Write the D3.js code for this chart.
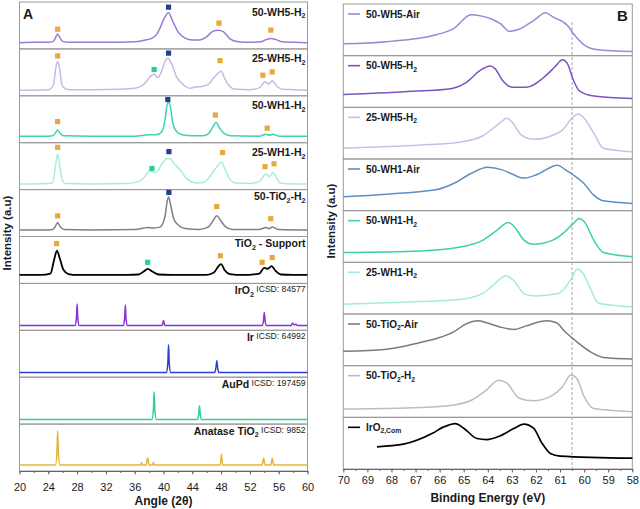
<!DOCTYPE html>
<html>
<head>
<meta charset="utf-8">
<script src="https://cdn.jsdelivr.net/npm/d3@7"></script>
<style>
  body { margin: 0; background: #fff; }
  text { font-family: "Liberation Sans", Arial, sans-serif; fill: #1a1a1a; }
</style>
</head>
<body>
<svg id="chart" width="640" height="509"></svg>
<script>
// ---------- panel A: XRD patterns, [angle, relative intensity in its strip] ----------
const xrd50WH5 = [[20,0.13],[22,0.14],[24,0.14],[24.7,0.16],[25.0,0.24],[25.3,0.32],[25.6,0.24],[26.0,0.16],[27,0.14],[30,0.14],[34,0.14],[36,0.15],[37.2,0.18],[38.3,0.22],[39.0,0.30],[39.5,0.44],[40.1,0.65],[40.7,0.77],[41.3,0.58],[42.0,0.37],[43.0,0.23],[44.0,0.19],[45.0,0.19],[46.0,0.26],[46.9,0.38],[47.6,0.40],[48.3,0.37],[49.2,0.22],[50.2,0.16],[52,0.14],[53.5,0.15],[54.3,0.20],[55.0,0.22],[55.6,0.20],[56.5,0.15],[58,0.14],[60,0.13]];
const xrd25WH5 = [[20,0.12],[22,0.12],[24,0.13],[24.7,0.23],[25.07,0.62],[25.3,0.73],[25.53,0.62],[25.9,0.23],[26.3,0.16],[27,0.13],[30,0.13],[34,0.14],[36,0.16],[37.0,0.21],[37.6,0.30],[38.2,0.42],[38.7,0.46],[39.2,0.39],[39.7,0.51],[40.2,0.73],[40.6,0.80],[41.1,0.69],[41.8,0.41],[42.8,0.23],[43.7,0.16],[44.5,0.19],[45.3,0.20],[46.2,0.24],[47.0,0.39],[47.6,0.48],[48.0,0.53],[48.5,0.37],[49.2,0.20],[50,0.14],[52,0.13],[53.4,0.18],[54.1,0.30],[54.6,0.25],[55.1,0.32],[55.7,0.21],[56.5,0.14],[58,0.13],[60,0.12]];
const xrd50WH1 = [[20,0.14],[24,0.14],[24.6,0.15],[25.0,0.21],[25.3,0.27],[25.6,0.21],[26.1,0.15],[30,0.14],[36,0.14],[38.0,0.17],[39.0,0.17],[39.8,0.24],[40.2,0.48],[40.5,0.80],[40.7,0.87],[40.95,0.77],[41.3,0.41],[41.8,0.24],[42.6,0.17],[44,0.15],[45.5,0.15],[46.3,0.20],[46.8,0.32],[47.3,0.43],[47.8,0.31],[48.4,0.20],[49.3,0.15],[53.3,0.14],[54.2,0.18],[54.7,0.16],[55.2,0.18],[56,0.14],[60,0.14]];
const xrd25WH1 = [[20,0.12],[24,0.13],[24.6,0.15],[25.0,0.50],[25.3,0.76],[25.6,0.50],[26.0,0.18],[26.4,0.13],[30,0.12],[35,0.13],[36.5,0.17],[37.2,0.24],[37.8,0.36],[38.2,0.40],[38.7,0.36],[39.2,0.40],[39.8,0.55],[40.4,0.66],[40.9,0.66],[41.5,0.55],[42.3,0.42],[43.2,0.24],[44.6,0.14],[45.5,0.15],[46.3,0.25],[46.9,0.38],[47.6,0.52],[48.1,0.59],[48.5,0.45],[49.1,0.25],[50,0.14],[52,0.13],[53.4,0.18],[54.2,0.33],[54.7,0.28],[55.2,0.36],[55.7,0.25],[56.2,0.14],[58,0.12],[60,0.12]];
const xrd50TiO2 = [[20,0.14],[24,0.14],[24.6,0.15],[25.0,0.22],[25.3,0.30],[25.6,0.22],[26.2,0.15],[30,0.14],[36,0.15],[37.3,0.18],[37.8,0.19],[38.5,0.18],[39.5,0.20],[40.2,0.42],[40.5,0.74],[40.7,0.84],[41.0,0.67],[41.4,0.39],[42.0,0.25],[43.0,0.17],[45,0.15],[46.3,0.21],[46.9,0.34],[47.4,0.44],[47.9,0.35],[48.6,0.21],[49.6,0.15],[53.3,0.15],[54.2,0.19],[54.7,0.17],[55.1,0.20],[56,0.15],[60,0.14]];
const xrdSupport = [[20,0.18],[23,0.18],[24.3,0.21],[24.8,0.50],[25.2,0.70],[25.6,0.53],[26.1,0.29],[26.8,0.20],[28,0.18],[32,0.18],[35,0.18],[36.5,0.19],[37.3,0.26],[37.8,0.31],[38.4,0.26],[39.3,0.19],[41,0.18],[44,0.18],[46,0.18],[47.0,0.23],[47.6,0.36],[48.0,0.41],[48.5,0.28],[49.2,0.20],[51,0.18],[53.3,0.21],[54.0,0.33],[54.5,0.31],[55.0,0.37],[55.6,0.26],[56.3,0.19],[58,0.18],[60,0.18]];
const refIrO2 = [[20,0.10],[27.7,0.10],[27.9,0.25],[28.0,0.56],[28.1,0.25],[28.3,0.10],[34.4,0.10],[34.6,0.25],[34.7,0.54],[34.8,0.25],[35.0,0.10],[39.8,0.10],[39.9,0.15],[40.0,0.21],[40.1,0.15],[40.2,0.10],[53.7,0.10],[53.9,0.22],[54.0,0.38],[54.1,0.22],[54.3,0.10],[57.7,0.10],[57.9,0.15],[58.15,0.12],[58.4,0.13],[58.6,0.10],[60,0.10]];
const refIr = [[20,0.10],[40.4,0.10],[40.6,0.30],[40.7,0.69],[40.8,0.30],[41.0,0.10],[47.1,0.10],[47.3,0.22],[47.4,0.35],[47.5,0.22],[47.7,0.10],[60,0.10]];
const refAuPd = [[20,0.10],[38.4,0.10],[38.6,0.30],[38.7,0.69],[38.8,0.30],[39.0,0.10],[44.7,0.10],[44.9,0.22],[45.0,0.39],[45.1,0.22],[45.3,0.10],[60,0.10]];
const refAnatase = [[20,0.13],[25.0,0.13],[25.2,0.40],[25.3,0.86],[25.4,0.40],[25.6,0.13],[36.8,0.13],[36.95,0.18],[37.1,0.13],[37.6,0.13],[37.8,0.28],[38.0,0.13],[38.45,0.13],[38.6,0.18],[38.75,0.13],[47.9,0.13],[48.05,0.36],[48.2,0.13],[53.7,0.13],[53.9,0.27],[54.1,0.13],[54.9,0.13],[55.1,0.27],[55.3,0.13],[60,0.13]];

const xrdCurves = [xrd50WH5, xrd25WH5, xrd50WH1, xrd25WH1, xrd50TiO2, xrdSupport, refIrO2, refIr, refAuPd, refAnatase];
const xrdLabels = [
  [["50-WH5-H","b"],["2","sub"]],
  [["25-WH5-H","b"],["2","sub"]],
  [["50-WH1-H","b"],["2","sub"]],
  [["25-WH1-H","b"],["2","sub"]],
  [["50-TiO","b"],["2","sub"],["-H","b"],["2","sub"]],
  [["TiO","b"],["2","sub"],[" - Support","b"]],
  [["IrO","b"],["2","sub"],[" ICSD: 84577","ref"]],
  [["Ir","b"],[" ICSD: 64992","ref"]],
  [["AuPd","b"],[" ICSD: 197459","ref"]],
  [["Anatase TiO","b"],["2","sub"],[" ICSD: 9852","ref"]]
];
// phase markers: [strip, angle, height, phase]  a = anatase, i = Ir, p = AuPd
const xrdMarks = [
  [0,25.3,0.42,"a"],[0,40.7,0.89,"i"],[0,47.7,0.55,"a"],[0,54.9,0.40,"a"],
  [1,25.3,0.85,"a"],[1,38.7,0.56,"p"],[1,40.7,0.91,"i"],[1,47.85,0.75,"a"],[1,53.8,0.44,"a"],[1,55.1,0.51,"a"],
  [2,25.3,0.45,"a"],[2,40.6,0.92,"i"],[2,47.2,0.59,"a"],[2,54.4,0.31,"a"],
  [3,25.3,0.90,"a"],[3,38.4,0.45,"p"],[3,40.75,0.81,"i"],[3,48.2,0.79,"a"],[3,54.1,0.49,"a"],[3,55.35,0.55,"a"],
  [4,25.3,0.44,"a"],[4,40.75,0.94,"i"],[4,47.4,0.64,"a"],[4,54.9,0.38,"a"],
  [5,25.15,0.85,"a"],[5,37.8,0.45,"p"],[5,47.9,0.59,"a"],[5,53.7,0.45,"a"],[5,55.1,0.55,"a"]
];
const angleTicks = [20, 24, 28, 32, 36, 40, 44, 48, 52, 56, 60];

// ---------- panel B: Ir 4f XPS, [binding energy, relative intensity in its strip] ----------
const xps50WH5Air = [[70,0.23],[68.2,0.27],[66.1,0.41],[65.4,0.53],[64.7,0.79],[64.3,0.77],[63.8,0.70],[63.45,0.61],[63.1,0.47],[62.7,0.51],[62.1,0.68],[61.6,0.83],[61.3,0.75],[60.7,0.59],[60.4,0.40],[60.0,0.21],[59.5,0.12],[58,0.08]];
const xps50WH5H2 = [[70,0.25],[68.2,0.28],[66.8,0.32],[65.7,0.35],[65.3,0.39],[64.9,0.48],[64.3,0.72],[63.9,0.80],[63.7,0.75],[63.4,0.53],[63.0,0.39],[62.4,0.39],[61.6,0.61],[61.2,0.79],[60.9,0.92],[60.7,0.85],[60.45,0.53],[60.2,0.32],[59.6,0.22],[58,0.17]];
const xps25WH5H2 = [[70,0.21],[66.8,0.27],[65.1,0.33],[64.2,0.45],[63.6,0.66],[63.2,0.79],[62.95,0.69],[62.6,0.46],[62.1,0.38],[61.3,0.46],[60.9,0.56],[60.5,0.79],[60.25,0.87],[60.0,0.79],[59.6,0.50],[59.2,0.21],[58,0.14]];
const xps50WH1Air = [[70,0.27],[68.2,0.32],[66.1,0.41],[65.4,0.53],[64.7,0.72],[64.0,0.84],[63.4,0.79],[63.0,0.71],[62.5,0.63],[62.0,0.69],[61.1,0.88],[60.8,0.80],[60.45,0.69],[60.0,0.52],[59.6,0.30],[59.2,0.19],[58,0.14]];
const xps50WH1H2 = [[70,0.19],[66.8,0.22],[65.2,0.29],[64.2,0.43],[63.6,0.63],[63.15,0.77],[62.9,0.69],[62.5,0.43],[62.1,0.35],[61.3,0.43],[60.9,0.55],[60.45,0.75],[60.2,0.85],[60.0,0.79],[59.6,0.43],[59.2,0.19],[58,0.11]];
const xps25WH1H2 = [[70,0.19],[66.8,0.24],[65.2,0.28],[64.2,0.40],[63.7,0.59],[63.25,0.74],[62.95,0.66],[62.45,0.38],[62.0,0.35],[61.1,0.39],[60.75,0.53],[60.45,0.75],[60.3,0.87],[60.05,0.79],[59.75,0.50],[59.4,0.21],[58,0.14]];
const xps50TiO2Air = [[70,0.28],[68.2,0.32],[66.8,0.45],[66.1,0.53],[65.4,0.66],[64.9,0.81],[64.4,0.87],[64.05,0.83],[63.5,0.75],[62.9,0.70],[62.4,0.77],[61.55,0.87],[61.15,0.83],[60.8,0.66],[60.3,0.46],[59.75,0.27],[59.2,0.16],[58,0.13]];
const xps50TiO2H2 = [[70,0.16],[66.8,0.19],[65.4,0.24],[64.6,0.35],[64.05,0.53],[63.55,0.72],[63.2,0.66],[62.7,0.37],[62.1,0.32],[61.3,0.43],[60.9,0.59],[60.55,0.82],[60.3,0.75],[60.0,0.40],[59.6,0.17],[58,0.11]];
const xpsIrO2Com = [[68.6,0.43],[67.5,0.48],[66.3,0.69],[65.85,0.81],[65.35,0.88],[65.0,0.79],[64.45,0.59],[64.05,0.57],[63.5,0.64],[62.9,0.79],[62.5,0.87],[62.1,0.79],[61.75,0.50],[61.4,0.30],[61.0,0.25],[58,0.21]];

const xpsCurves = [xps50WH5Air, xps50WH5H2, xps25WH5H2, xps50WH1Air, xps50WH1H2, xps25WH1H2, xps50TiO2Air, xps50TiO2H2, xpsIrO2Com];
const xpsLabels = [
  [["50-WH5-Air","b"]],
  [["50-WH5-H","b"],["2","sub"]],
  [["25-WH5-H","b"],["2","sub"]],
  [["50-WH1-Air","b"]],
  [["50-WH1-H","b"],["2","sub"]],
  [["25-WH1-H","b"],["2","sub"]],
  [["50-TiO","b"],["2","sub"],["-Air","b"]],
  [["50-TiO","b"],["2","sub"],["-H","b"],["2","sub"]],
  [["IrO","b"],["2,Com","sub"]]
];
const energyTicks = [70, 69, 68, 67, 66, 65, 64, 63, 62, 61, 60, 59, 58];
const refEnergy = 60.5;

// ---------- styles ----------
const xrdColors = ["#9b7bd0", "#c9b8e8", "#3ed3b0", "#a8ece0", "#808080", "#000000", "#8433d6", "#2b40cf", "#2ccf95", "#e5b53a"];
const xpsColors = ["#9d86d4", "#7c52c2", "#cbbde9", "#5b8fc2", "#3dd0ad", "#a3eadf", "#7a7a7a", "#bdbdbd", "#000000"];
const markColors = { a: "#e8a93a", i: "#24408e", p: "#27d18f" };

const svg = d3.select("#chart");
const A = { left: 19.5, right: 307.5, top: 2, bottom: 471 };
const B = { left: 343.3, right: 632.3, top: 4, bottom: 469 };

const xA = d3.scaleLinear().domain([20, 60]).range([A.left, A.right]);
const xB = d3.scaleLinear().domain([70, 58]).range([B.left, B.right]);
const hA = (A.bottom - A.top) / xrdCurves.length;
const hB = (B.bottom - B.top) / xpsCurves.length;

const stripY = (P, h, i) => d3.scaleLinear().domain([0, 1]).range([P.top + (i + 1) * h, P.top + i * h]);

function richText(g, x, y, parts, anchor, size) {
  const t = g.append("text").attr("x", x).attr("y", y)
    .attr("text-anchor", anchor).style("white-space", "pre");
  let shift = 0;
  parts.forEach(([s, k]) => {
    const target = k === "sub" ? 2.6 : k === "ref" ? -1.8 : 0;
    t.append("tspan")
      .attr("dy", target - shift)
      .attr("font-size", k === "sub" ? size * 0.68 : k === "ref" ? size * 0.82 : size)
      .attr("font-weight", k === "ref" ? "normal" : "bold")
      .text(s);
    shift = target;
  });
}

// ---------- panel A ----------
const gA = svg.append("g");
xrdCurves.forEach((data, i) => {
  const y = stripY(A, hA, i);
  gA.append("rect")
    .attr("x", A.left).attr("y", A.top + i * hA)
    .attr("width", A.right - A.left).attr("height", hA)
    .attr("fill", "none").attr("stroke", "#9a9a9a").attr("stroke-width", 1);
  gA.append("path")
    .datum(data)
    .attr("fill", "none")
    .attr("stroke", xrdColors[i])
    .attr("stroke-width", i === 5 ? 1.8 : 1.5)
    .attr("d", d3.line().x(d => xA(d[0])).y(d => y(d[1])).curve(d3.curveMonotoneX));
  richText(gA, A.right - 2, A.top + i * hA + (i < 4 ? 13.5 : 10.5), xrdLabels[i], "end", 10.5);
});

gA.selectAll("rect.mark")
  .data(xrdMarks)
  .enter()
  .append("rect")
  .attr("class", "mark")
  .attr("x", d => xA(d[1]) - 2.6)
  .attr("y", d => stripY(A, hA, d[0])(d[2]) - 2.6)
  .attr("width", 5.2).attr("height", 5.2)
  .attr("fill", d => markColors[d[3]]);

gA.append("g")
  .attr("transform", `translate(0,${A.bottom})`)
  .call(d3.axisBottom(xA).ticks(20).tickSize(2).tickFormat(""))
  .call(g => g.select(".domain").remove())
  .selectAll("line").attr("stroke", "#666");
gA.append("g")
  .attr("transform", `translate(0,${A.bottom})`)
  .call(d3.axisBottom(xA).tickValues(angleTicks).tickSize(3.5).tickSizeOuter(0).tickPadding(8.5))
  .call(g => g.select(".domain").attr("stroke", "#666"))
  .call(g => g.selectAll("line").attr("stroke", "#666"))
  .call(g => g.selectAll("text").attr("font-size", 11).attr("font-family", "Liberation Sans, Arial, sans-serif").attr("fill", "#1a1a1a"));

svg.append("text").attr("x", (A.left + A.right) / 2).attr("y", 505)
  .attr("text-anchor", "middle").attr("font-size", 12).attr("font-weight", "bold")
  .text("Angle (2θ)");
svg.append("text").attr("transform", `translate(11,233) rotate(-90)`)
  .attr("text-anchor", "middle").attr("font-size", 11.5).attr("font-weight", "bold")
  .text("Intensity (a.u)");
svg.append("text").attr("x", 23).attr("y", 19)
  .attr("font-size", 14).attr("font-weight", "bold").text("A");

// ---------- panel B ----------
const gB = svg.append("g");
xpsCurves.forEach((data, i) => {
  gB.append("rect")
    .attr("x", B.left).attr("y", B.top + i * hB)
    .attr("width", B.right - B.left).attr("height", hB)
    .attr("fill", "none").attr("stroke", "#9a9a9a").attr("stroke-width", 1);
});

gB.append("line")
  .attr("x1", xB(refEnergy)).attr("x2", xB(refEnergy))
  .attr("y1", B.top + 18).attr("y2", B.bottom)
  .attr("stroke", "#a8a8a8").attr("stroke-width", 1).attr("stroke-dasharray", "3,2");

xpsCurves.forEach((data, i) => {
  const y = stripY(B, hB, i);
  gB.append("path")
    .datum(data)
    .attr("fill", "none")
    .attr("stroke", xpsColors[i])
    .attr("stroke-width", i === 8 ? 1.7 : 1.5)
    .attr("d", d3.line().x(d => xB(d[0])).y(d => y(d[1])).curve(d3.curveMonotoneX));
  const ly = B.top + i * hB + 13.5;
  gB.append("line")
    .attr("x1", 348).attr("x2", 360).attr("y1", ly - 3.5).attr("y2", ly - 3.5)
    .attr("stroke", xpsColors[i]).attr("stroke-width", 1.6);
  richText(gB, 366, ly, xpsLabels[i], "start", 10);
});

gB.append("g")
  .attr("transform", `translate(0,${B.bottom})`)
  .call(d3.axisBottom(xB).ticks(24).tickSize(2).tickFormat(""))
  .call(g => g.select(".domain").remove())
  .selectAll("line").attr("stroke", "#666");
gB.append("g")
  .attr("transform", `translate(0,${B.bottom})`)
  .call(d3.axisBottom(xB).tickValues(energyTicks).tickSize(3.5).tickSizeOuter(0).tickPadding(3.5).tickFormat(d3.format("d")))
  .call(g => g.select(".domain").attr("stroke", "#666"))
  .call(g => g.selectAll("line").attr("stroke", "#666"))
  .call(g => g.selectAll("text").attr("font-size", 11).attr("font-family", "Liberation Sans, Arial, sans-serif").attr("fill", "#1a1a1a"));

svg.append("text").attr("x", (B.left + B.right) / 2).attr("y", 502)
  .attr("text-anchor", "middle").attr("font-size", 12).attr("font-weight", "bold")
  .text("Binding Energy (eV)");
svg.append("text").attr("transform", `translate(335,221) rotate(-90)`)
  .attr("text-anchor", "middle").attr("font-size", 11.5).attr("font-weight", "bold")
  .text("Intensity (a.u)");
svg.append("text").attr("x", 617).attr("y", 21)
  .attr("font-size", 15).attr("font-weight", "bold").text("B");
</script>
</body>
</html>
